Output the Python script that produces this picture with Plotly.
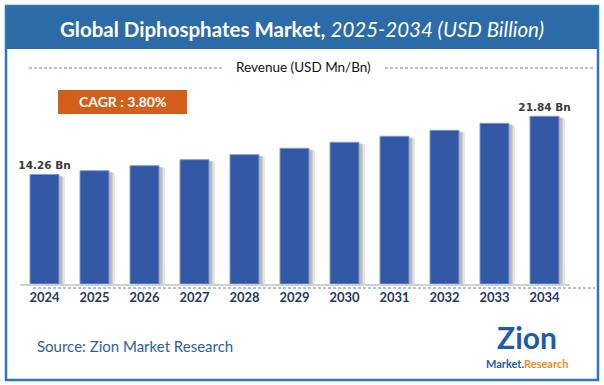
import plotly.graph_objects as go

years = ["2024", "2025", "2026", "2027", "2028", "2029", "2030", "2031", "2032", "2033", "2034"]
revenue = [14.26, 14.75, 15.40, 16.19, 16.84, 17.67, 18.45, 19.23, 20.01, 20.92, 21.84]
value_labels = ["14.26 Bn", "", "", "", "", "", "", "", "", "", "21.84 Bn"]

W, H = 604, 385
def px(x):
    return x / W
def py(y):
    return 1 - y / H

BAR_COLOR = "#3257A5"
fig = go.Figure()

# soft shadows
fig.add_trace(go.Bar(x=years, y=[v - 0.25 for v in revenue], width=0.58, offset=-0.29 + 0.12,
                     marker=dict(color="rgba(0,0,0,0.10)", line=dict(width=0)),
                     hoverinfo="skip", showlegend=False))
fig.add_trace(go.Bar(x=years, y=[v - 0.15 for v in revenue], width=0.58, offset=-0.29 + 0.07,
                     marker=dict(color="rgba(0,0,0,0.18)", line=dict(width=0)),
                     hoverinfo="skip", showlegend=False))
fig.add_trace(go.Bar(x=years, y=revenue, width=0.58, offset=-0.29,
                     marker=dict(color=BAR_COLOR, line=dict(color="#7E9BD3", width=1)),
                     text=[f"<b>{t}</b>" if t else "" for t in value_labels],
                     textposition="outside", cliponaxis=False, constraintext="none",
                     textfont=dict(family="DejaVu Sans", size=10.5, color="#3A3A3A"),
                     showlegend=False))

DASH = "3px,2px"
shapes = []
# outer border
shapes.append(dict(type="rect", xref="paper", yref="paper", x0=px(6), x1=px(598), y0=py(380), y1=py(6),
                   line=dict(color="#2E75B6", width=2.5), fillcolor="rgba(0,0,0,0)", layer="above"))
# title bar
shapes.append(dict(type="rect", xref="paper", yref="paper", x0=px(6), x1=px(598), y0=py(49), y1=py(6),
                   line=dict(width=0), fillcolor="#2B6BA7", layer="below"))
# dashed lines around legend label
shapes.append(dict(type="line", xref="paper", yref="paper", x0=px(29), x1=px(222), y0=py(68), y1=py(68),
                   line=dict(color="#5B85CC", width=1, dash=DASH)))
shapes.append(dict(type="line", xref="paper", yref="paper", x0=px(385), x1=px(595), y0=py(68), y1=py(68),
                   line=dict(color="#5B85CC", width=1, dash=DASH)))
# dashed line under axis
shapes.append(dict(type="line", xref="paper", yref="paper", x0=px(33), x1=px(595), y0=py(288), y1=py(288),
                   line=dict(color="#5B85CC", width=1, dash=DASH)))
# CAGR box
shapes.append(dict(type="rect", xref="paper", yref="paper", x0=px(58), x1=px(187), y0=py(114), y1=py(90),
                   line=dict(width=0), fillcolor="#D2601A"))

annotations = [
    dict(x=px(302), y=py(29), xref="paper", yref="paper", showarrow=False, xanchor="center", yanchor="middle",
         text="<b>Global Diphosphates Market,</b> <i>2025-2034 (USD Billion)</i>",
         font=dict(family="Lato", size=20.5, color="white")),
    dict(x=px(303), y=py(67), xref="paper", yref="paper", showarrow=False, xanchor="center", yanchor="middle",
         text="Revenue (USD Mn/Bn)", font=dict(family="Lato", size=13.5, color="#111111")),
    dict(x=px(122), y=py(102), xref="paper", yref="paper", showarrow=False, xanchor="center", yanchor="middle",
         text="<b>CAGR : 3.80%</b>", font=dict(family="Lato", size=14, color="white")),
    dict(x=px(35), y=py(346), xref="paper", yref="paper", showarrow=False, xanchor="left", yanchor="middle",
         text="Source: Zion Market Research", font=dict(family="Lato", size=15, color="#2E5D9E")),
    dict(x=px(527), y=py(337), xref="paper", yref="paper", showarrow=False, xanchor="center", yanchor="middle",
         text="<b>Zion</b>", font=dict(family="Lato", size=30, color="#1F5BA8")),
    dict(x=px(527), y=py(363), xref="paper", yref="paper", showarrow=False, xanchor="center", yanchor="middle",
         text="<b><span style='color:#1F5BA8'>Market.</span><span style='color:#F08A1C'>Research</span></b>",
         font=dict(family="Lato", size=11)),
]

fig.update_layout(
    width=W, height=H,
    margin=dict(l=0, r=0, t=0, b=0),
    paper_bgcolor="white", plot_bgcolor="white",
    barmode="overlay",
    shapes=shapes, annotations=annotations,
    xaxis=dict(domain=[px(19.5), px(569.5)], type="category", range=[-0.5, 10.5],
               showline=True, linecolor="#D0D0D0", linewidth=1.5, showgrid=False, ticks="",
               tickfont=dict(family="Lato", size=13, color="#1F3864"), ticklabelstandoff=1,
               tickprefix="<b>", ticksuffix="</b>", fixedrange=True),
    yaxis=dict(domain=[1 - 284 / H, 1 - 100 / H], range=[0, 184 / 7.68], visible=False, fixedrange=True),
    showlegend=False,
)

fig.write_html("out.html", config={"displayModeBar": False},
               post_script="document.body.style.margin='0';")
